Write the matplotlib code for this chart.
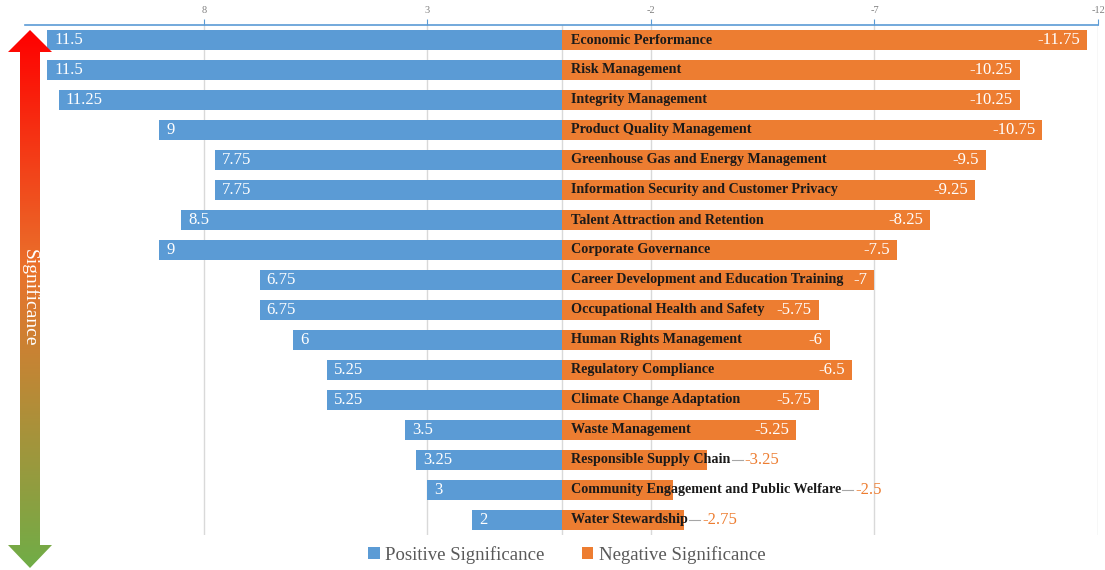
import matplotlib
matplotlib.use("Agg")
import matplotlib.pyplot as plt
import numpy as np
from matplotlib.colors import LinearSegmentedColormap
from matplotlib.patches import Polygon

# data
categories = ["Economic Performance", "Risk Management", "Integrity Management",
              "Product Quality Management", "Greenhouse Gas and Energy Management",
              "Information Security and Customer Privacy", "Talent Attraction and Retention",
              "Corporate Governance", "Career Development and Education Training",
              "Occupational Health and Safety", "Human Rights Management",
              "Regulatory Compliance", "Climate Change Adaptation", "Waste Management",
              "Responsible Supply Chain", "Community Engagement and Public Welfare",
              "Water Stewardship"]
positive = [11.5, 11.5, 11.25, 9, 7.75, 7.75, 8.5, 9, 6.75, 6.75, 6, 5.25, 5.25, 3.5, 3.25, 3, 2]
negative = [-11.75, -10.25, -10.25, -10.75, -9.5, -9.25, -8.25, -7.5, -7, -5.75, -6, -6.5,
            -5.75, -5.25, -3.25, -2.5, -2.75]
xticks = [8, 3, -2, -7, -12]

BLUE = "#5B9BD5"
ORANGE = "#ED7D31"
SERIF = ["Liberation Serif", "DejaVu Serif"]
plt.rcParams["font.family"] = SERIF

W, H = 1105, 570
fig = plt.figure(figsize=(W / 100, H / 100), dpi=100)
ax = fig.add_axes([25 / W, 1 - 535 / H, (1098 - 25) / W, (535 - 25) / H])

y = np.arange(len(categories))
ax.barh(y, positive, height=0.67, color=BLUE, zorder=2, label="Positive Significance")
ax.barh(y, negative, height=0.67, color=ORANGE, zorder=2, label="Negative Significance")

ax.set_xlim(12, -12)
ax.set_ylim(len(categories) - 0.5, -0.5)
ax.set_yticks([])
ax.xaxis.tick_top()
ax.set_xticks(xticks)
ax.set_xticklabels([str(t) for t in xticks])
ax.tick_params(axis="x", colors=BLUE, labelcolor="#808080", labelsize=7.5, length=4, width=0.8, pad=3)
for s in ["left", "right", "bottom"]:
    ax.spines[s].set_visible(False)
ax.spines["top"].set_color(BLUE)
ax.spines["top"].set_linewidth(1.2)
ax.grid(axis="x", color="#D9D9D9", linewidth=1, zorder=0)
ax.axvline(0, color="#D9D9D9", linewidth=1, zorder=1)

# positive labels, inside the bar at the left end
for yi, v in zip(y, positive):
    ax.annotate(f"{v:g}", (v, yi), xytext=(5, 0), textcoords="offset points",
                ha="left", va="center", color="white", fontsize=12, zorder=4)

# category names right of zero
name_texts = []
for yi, c in zip(y, categories):
    t = ax.annotate(c, (0, yi), xytext=(7, 0), textcoords="offset points",
                    ha="left", va="center", color="#1a1a1a", fontsize=10.2,
                    fontweight="bold", zorder=4)
    name_texts.append(t)

# negative labels: inside the bar end, or outside after the name when the name runs past the bar
fig.canvas.draw()
renderer = fig.canvas.get_renderer()
inv = ax.transData.inverted()
for yi, v, t in zip(y, negative, name_texts):
    bb = t.get_window_extent(renderer)
    bar_end = ax.transData.transform((v, yi))[0]
    lab = f"{v:g}"
    if bb.x1 < bar_end:
        ax.annotate(lab, (v, yi), xytext=(-5, 0), textcoords="offset points",
                    ha="right", va="center", color="white", fontsize=12, zorder=4)
    else:
        x_lab = inv.transform((bb.x1 + 14, 0))[0]
        ax.annotate(lab, (x_lab, yi), ha="left", va="center", color=ORANGE,
                    fontsize=12, zorder=4)
        x0 = inv.transform((bb.x1 + 1, 0))[0]
        x1 = inv.transform((bb.x1 + 12, 0))[0]
        ax.plot([x0, x1], [yi, yi], color="#A6A6A6", linewidth=0.8, zorder=3)

leg = fig.legend(loc="center", bbox_to_anchor=(567 / W, 1 - 555 / H), ncol=2,
                 frameon=False, fontsize=13.5, handlelength=0.6, handleheight=0.6,
                 handletextpad=0.3, columnspacing=2.0)
for txt in leg.get_texts():
    txt.set_color("#595959")

# gradient double arrow on the left
ov = fig.add_axes([0, 0, 1, 1], zorder=5)
ov.axis("off")
ov.patch.set_alpha(0)
arrow = [(30, 30), (52, 52), (40, 52), (40, 545), (52, 545), (30, 568),
         (8, 545), (20, 545), (20, 52), (8, 52)]
poly = Polygon(arrow, closed=True, facecolor="none", edgecolor="none")
ov.add_patch(poly)
cmap = LinearSegmentedColormap.from_list("sig", [(0, "#FF0000"), (0.45, "#E9732C"), (1, "#70AD47")])
grad = np.linspace(0, 1, 256).reshape(-1, 1)
im = ov.imshow(grad, cmap=cmap, aspect="auto", extent=(8, 52, 568, 30), origin="upper")
im.set_clip_path(poly)
ov.text(30, 298, "Significance", rotation=270, ha="center", va="center",
        color="white", fontsize=14)
ov.set_xlim(0, W)
ov.set_ylim(H, 0)

fig.savefig("out.png", dpi=100)
